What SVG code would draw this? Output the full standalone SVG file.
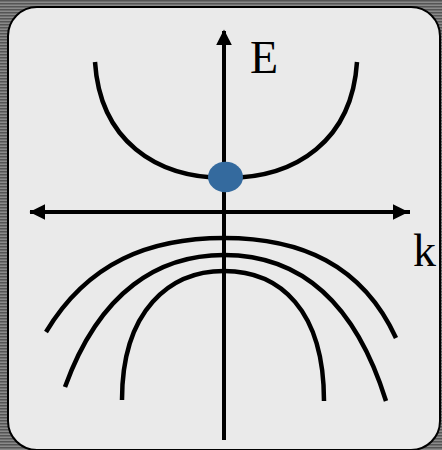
<svg xmlns="http://www.w3.org/2000/svg" width="442" height="450" viewBox="0 0 442 450">
<defs>
<pattern id="stripes" width="4" height="3" patternUnits="userSpaceOnUse">
<rect width="4" height="3" fill="#8a8a8a"/>
<rect width="4" height="1.5" fill="#555555"/>
</pattern>
<marker id="arr" viewBox="0 0 10 10" refX="9" refY="5" markerWidth="4" markerHeight="4" orient="auto" markerUnits="strokeWidth">
<path d="M0,0 L10,5 L0,10 z" fill="#000"/>
</marker>
</defs>
<style>
.curve{fill:none;stroke:#000;stroke-width:4.5}
.axis{fill:none;stroke:#000;stroke-width:4}
.lbl{font-family:"Liberation Serif","Times New Roman",serif;font-size:46px;fill:#000}
</style>
<rect x="0" y="0" width="442" height="450" fill="url(#stripes)"/>
<rect x="8" y="7" width="432" height="443" rx="29" ry="29" fill="#eaeaea" stroke="#000" stroke-width="2"/>
<g id="connectors">
<line class="axis" x1="224" y1="440" x2="224" y2="31" marker-end="url(#arr)"/>
<line class="axis" x1="30" y1="212" x2="407" y2="212" marker-end="url(#arr)"/>
<line class="axis" x1="410" y1="212" x2="31" y2="212" marker-end="url(#arr)"/>
</g>
<g id="conduction-band">
<path class="curve" d="M95,62 C100,140 155,178 226,178 C297,178 352,140 357,62"/>
</g>
<g id="valence-bands">
<path class="curve" d="M46,332 C88,262 150,238 224,238 C300,238 362,264 396,338"/>
<path class="curve" d="M65,387 C100,290 160,255 224,255 C292,255 352,292 386,401"/>
<path class="curve" d="M122,400 C122,310 170,271 224,271 C280,271 324,310 324,401"/>
</g>
<g id="electron">
<ellipse cx="225.5" cy="177" rx="17.5" ry="15.3" fill="#346a9e"/>
</g>
<g id="label-E"><text class="lbl" x="250" y="73">E</text></g>
<g id="label-k"><text class="lbl" x="413" y="266">k</text></g>
</svg>
